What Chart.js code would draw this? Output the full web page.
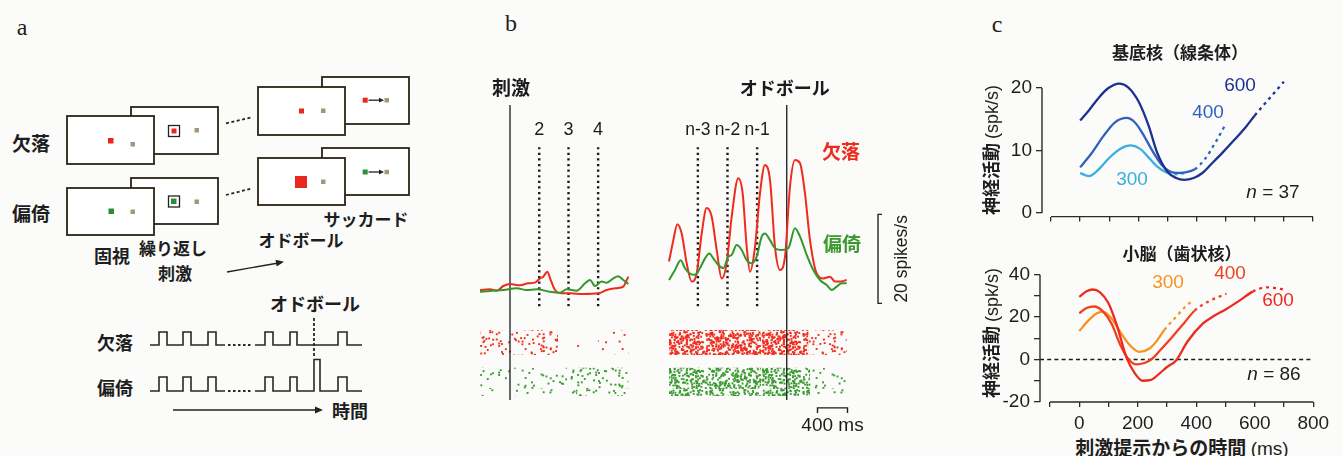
<!DOCTYPE html>
<html><head><meta charset="utf-8">
<script src="https://cdn.jsdelivr.net/npm/chart.js@4.4.1/dist/chart.umd.min.js"></script>
<style>
html,body{margin:0;padding:0;background:#fbfbf9;}
#root{position:relative;width:1343px;height:456px;overflow:hidden;background:#fbfbf9;font-family:"Liberation Sans",Arial,sans-serif;color:#1e1e1e;}
.t{position:absolute;white-space:nowrap;transform:translate(-50%,-50%);line-height:1;}
.jp{font-family:"Noto Sans CJK JP",sans-serif;font-weight:bold;}
.n{font-family:"Liberation Sans",Arial,sans-serif;font-weight:normal;}
.let{font-family:"Liberation Serif","DejaVu Serif",serif;font-size:24px;}
canvas{position:absolute;}
</style></head><body><div id="root">

<svg width="470" height="456" style="position:absolute;left:0;top:0" xmlns="http://www.w3.org/2000/svg">
 <g fill="#fff" stroke="#2b2414" stroke-width="1.8">
  <rect x="131" y="107" width="87" height="47"/>
  <rect x="67" y="116" width="87" height="48"/>
  <rect x="322" y="77" width="87" height="47"/>
  <rect x="258" y="87" width="87" height="48"/>
  <rect x="131" y="178" width="87" height="46"/>
  <rect x="67" y="188" width="87" height="47"/>
  <rect x="322" y="148" width="87" height="47"/>
  <rect x="258" y="158" width="87" height="47"/>
 </g>
 <g stroke="none">
  <rect x="168.5" y="125.5" width="11" height="11" fill="#fff" stroke="#222" stroke-width="1.3"/>
  <rect x="171.5" y="128.5" width="5" height="5" fill="#e8281e"/>
  <rect x="194.5" y="128" width="4.5" height="4.5" fill="#a3967a"/>
  <rect x="108" y="138" width="5.5" height="5.5" fill="#e8281e"/>
  <rect x="130.5" y="142" width="4.5" height="4.5" fill="#a3967a"/>
  <rect x="299" y="108.5" width="5" height="5" fill="#e8281e"/>
  <rect x="321" y="108.5" width="4.5" height="4.5" fill="#a3967a"/>
  <rect x="362.7" y="97.7" width="5" height="5" fill="#e8281e"/>
  <rect x="384.5" y="98" width="4.5" height="4.5" fill="#a3967a"/>
  <rect x="168.5" y="196" width="11" height="11" fill="#fff" stroke="#222" stroke-width="1.3"/>
  <rect x="171" y="198.5" width="5.5" height="5.5" fill="#2a8f3a"/>
  <rect x="194.5" y="199.5" width="4.5" height="4.5" fill="#a3967a"/>
  <rect x="108.5" y="208.5" width="5.5" height="5.5" fill="#2a8f3a"/>
  <rect x="130.5" y="209.5" width="4.5" height="4.5" fill="#a3967a"/>
  <rect x="295" y="176" width="12" height="12" fill="#e8281e"/>
  <rect x="321" y="179.5" width="4.5" height="4.5" fill="#a3967a"/>
  <rect x="362.7" y="169.5" width="5" height="5" fill="#2a8f3a"/>
  <rect x="384.5" y="169.8" width="4.5" height="4.5" fill="#a3967a"/>
 </g>
 <g stroke="#222" stroke-width="1.3" fill="#222">
  <line x1="368.5" y1="100.2" x2="379.5" y2="100.2"/><polygon points="379,97.8 384,100.2 379,102.6" stroke="none"/>
  <line x1="368.5" y1="172" x2="379.5" y2="172"/><polygon points="379,169.6 384,172 379,174.4" stroke="none"/>
 </g>
 <g stroke="#2b2414" stroke-width="1.8" stroke-dasharray="3 2.5" fill="none">
  <line x1="226" y1="123.3" x2="252" y2="117.3"/>
  <line x1="226" y1="195" x2="252" y2="188.3"/>
 </g>
 <g stroke="#222" stroke-width="1.4" fill="#222">
  <line x1="227" y1="272" x2="277" y2="263.2"/><polygon points="284,261.7 276.7,266.5 275.5,259.7" stroke="none"/>
  <line x1="173" y1="410" x2="317" y2="410"/><polygon points="323,410 315,406.5 315,413.5" stroke="none"/>
 </g>
 <g stroke="#2e2719" stroke-width="1.6" fill="none">
  <path d="M150,345 H159 V332 H167 V345 H183 V332 H191 V345 H208 V332 H216 V345 H225"/>
  <path d="M255,345 H265 V332 H273 V345 H290 V332 H297 V345 H338 V332 H347 V345 H362"/>
  <path d="M150,391 H159 V377 H167 V391 H183 V377 H191 V391 H208 V377 H216 V391 H225"/>
  <path d="M255,391 H265 V377 H273 V391 H290 V377 H297 V391 H314 V359.5 H320 V391 H338 V377 H347 V391 H362"/>
  <path d="M228,345 H253 M228,391 H253" stroke-dasharray="2.5 2.5" stroke-width="1.8"/>
  <path d="M314,318 V358" stroke-dasharray="3 2" stroke-width="1.8"/>
 </g>
 <g font-family="Noto Sans CJK JP" font-weight="bold" fill="#1e1e1e" text-anchor="middle" dominant-baseline="central">
  <text x="31" y="142" font-size="19">欠落</text>
  <text x="31" y="212" font-size="19">偏倚</text>
  <text x="366" y="218" font-size="17">サッカード</text>
  <text x="301" y="239" font-size="17">オドボール</text>
  <text x="112" y="255" font-size="18">固視</text>
  <text x="173" y="247" font-size="17">繰り返し</text>
  <text x="175" y="272" font-size="17">刺激</text>
  <text x="315" y="303" font-size="18">オドボール</text>
  <text x="115" y="342" font-size="18">欠落</text>
  <text x="115" y="387" font-size="18">偏倚</text>
  <text x="350" y="410" font-size="18">時間</text>
 </g>
 <text x="22" y="27" font-family="Liberation Serif" font-size="24" fill="#1e1e1e" text-anchor="middle" dominant-baseline="central">a</text>
</svg>

<div class="t let" style="left:511px;top:23px">b</div>
<div class="t let" style="left:997px;top:24px">c</div>

<canvas id="cb" width="450" height="370" style="left:470px;top:70px;width:450px;height:370px"></canvas>
<div class="t jp" style="left:841px;top:150px;font-size:19px;color:#ee2b1c">欠落</div>
<div class="t jp" style="left:842px;top:242px;font-size:19px;color:#3a9a2f">偏倚</div>

<canvas id="c1" width="358" height="172" style="left:985px;top:60px;width:358px;height:172px"></canvas>
<canvas id="c2" width="358" height="177" style="left:985px;top:255px;width:358px;height:177px"></canvas>

<div class="t jp" style="left:1180px;top:51px;font-size:17px">基底核（線条体）</div>
<div class="t jp" style="left:991px;top:150px;font-size:18px;transform:translate(-50%,-50%) rotate(-90deg)">神経活動 <span class="n">(spk/s)</span></div>
<div class="t" style="left:1240px;top:84px;font-size:19px;color:#1d3290">600</div>
<div class="t" style="left:1208px;top:111px;font-size:19px;color:#2f62bd">400</div>
<div class="t" style="left:1132px;top:178px;font-size:19px;color:#3aaee3">300</div>
<div class="t" style="left:1273px;top:191px;font-size:19px"><i>n</i> = 37</div>

<div class="t jp" style="left:1182px;top:252px;font-size:17px">小脳（歯状核）</div>
<div class="t jp" style="left:991px;top:333px;font-size:18px;transform:translate(-50%,-50%) rotate(-90deg)">神経活動 <span class="n">(spk/s)</span></div>
<div class="t" style="left:1168px;top:281px;font-size:19px;color:#f7941d">300</div>
<div class="t" style="left:1230px;top:272px;font-size:19px;color:#f0401f">400</div>
<div class="t" style="left:1278px;top:299px;font-size:19px;color:#ee2a1e">600</div>
<div class="t" style="left:1274px;top:373px;font-size:19px"><i>n</i> = 86</div>
<div class="t jp" style="left:1182px;top:447px;font-size:19px">刺激提示からの時間 <span class="n">(ms)</span></div>

</div>
<script>
Chart.defaults.font.family = '"Liberation Sans", Arial, sans-serif';
Chart.defaults.color = '#1e1e1e';

// ================= DATA =================
// Panel b: time (ms, first stimulus = 0) vs firing rate (spikes/s)
const stimRedTrace = [[-400,8.0],[-267,8.15],[-178,7.85],[-89,8.9],[0,9.35],[133,9.05],[244,9.5],[333,9.65],[400,10.6],[444,11.0],[498,12.1],[542,10.25],[600,8.0],[689,7.25],[800,7.25],[978,7.1],[1178,7.25],[1289,8.0],[1422,8.4],[1511,8.75],[1547,9.9],[1578,11.0]];
const stimGreenTrace = [[-400,7.6],[-267,7.8],[-89,8.0],[89,8.4],[222,8.0],[356,8.15],[533,7.6],[667,7.4],[756,8.15],[889,7.85],[1000,9.5],[1067,10.25],[1133,8.9],[1222,9.9],[1289,9.65],[1378,10.6],[1444,11.1],[1511,10.25],[1578,9.35]];
const oddRedTrace = [[2120,14.4],[2178,19.2],[2231,22.8],[2289,20.7],[2356,14.0],[2422,9.9],[2489,11.7],[2556,20.7],[2622,26.4],[2689,24.5],[2756,17.0],[2822,10.6],[2889,14.0],[2956,24.5],[3044,33.1],[3102,29.7],[3156,17.7],[3200,12.1],[3267,17.7],[3333,29.7],[3400,36.1],[3467,32.7],[3533,17.7],[3600,12.5],[3667,15.5],[3733,31.2],[3800,37.2],[3867,36.5],[3933,29.7],[4000,19.2],[4089,11.7],[4178,10.6],[4267,11.0],[4333,9.9],[4400,9.9],[4489,10.25]];
const oddGreenTrace = [[2120,10.25],[2200,12.5],[2276,14.7],[2333,12.9],[2400,11.7],[2467,11.4],[2533,12.9],[2600,15.1],[2658,16.2],[2711,15.1],[2778,13.6],[2844,12.9],[2911,15.5],[2956,15.9],[3022,18.1],[3089,17.0],[3156,14.7],[3222,14.0],[3289,15.5],[3356,20.0],[3400,20.7],[3467,19.2],[3533,17.4],[3622,17.0],[3711,17.4],[3800,21.9],[3867,20.0],[3956,15.9],[4044,12.5],[4133,10.25],[4222,9.1],[4289,8.0],[4356,8.75],[4422,9.5],[4489,9.5]];
const stimOnsetLeft = [0];
const stimDottedLeft = [390, 780, 1175];
const stimLabelsLeft = ['2', '3', '4'];
const stimDottedRight = [2505, 2900, 3295];
const stimLabelsRight = ['n-3', 'n-2', 'n-1'];
const oddballOnset = [3690];
const bHeaderLabels = ['刺激', 'オドボール'];
// raster segments: [start ms, end ms, density level 0..3]
const rasterRed = [[-400,640,2],[780,940,0],[1170,1580,1],[2120,3980,3],[3980,4490,2]];
const rasterGreen = [[-400,880,1],[880,1580,2],[2120,4000,3],[4000,4490,1]];
const scaleBarRate = [5, 25];      // 20 spikes/s
const scaleBarTime = [4100, 4500]; // 400 ms

// Panel c: time from stimulus (ms) vs activity (spk/s), ISI 600/400/300 ms
const cTicksX = [-100,0,100,200,300,400,500,600,700,800];
const cLabeledX = [0,200,400,600,800];
const cTopTicksY = [0,10,20];
const cBottomTicksY = [-20,-10,0,10,20,30,40];
const cBottomLabeledY = [-20,0,20,40];
const striatum600 = [[0,14.8],[30,16.4],[60,18.2],[95,19.9],[134,20.7],[165,20.1],[200,17.9],[235,14.0],[265,9.6],[300,6.6],[330,5.6],[357,5.3],[390,5.6],[420,6.4],[450,7.8],[490,9.7],[530,11.7],[570,13.8],[600,15.6],[650,18.3],[700,21.0]];
const striatum400 = [[0,7.3],[40,9.6],[80,12.3],[120,14.5],[160,15.2],[190,14.4],[220,12.3],[250,9.8],[280,7.7],[305,6.7],[330,6.4],[360,6.5],[394,7.0],[430,8.7],[465,11.3],[500,14.2]];
const striatum300 = [[0,6.4],[15,6.1],[30,5.9],[60,6.8],[100,8.8],[140,10.3],[173,10.8],[205,10.3],[235,8.9],[265,7.4],[300,6.4],[335,6.2],[370,6.5]];
const striatumSolidEnd = [600, 394, 300];
const dentate600 = [[0,29.5],[25,32.2],[46,33.0],[70,31.8],[100,26.5],[130,15.5],[160,1.5],[190,-6.5],[217,-10.0],[245,-9.6],[275,-6.5],[300,-3.5],[331,-0.4],[370,8.5],[423,17.0],[460,20.5],[503,23.8],[550,28.0],[593,32.0],[640,34.0],[670,33.7],[697,33.0]];
const dentate400 = [[0,21.8],[25,24.3],[51,25.0],[80,22.8],[110,17.0],[140,7.0],[165,0.8],[194,-2.3],[225,-1.5],[250,0.5],[274,4.0],[320,11.0],[360,17.5],[394,23.0],[440,27.2],[503,31.0]];
const dentate300 = [[0,13.4],[30,18.2],[60,21.8],[80,22.6],[110,19.5],[140,13.0],[170,7.2],[206,3.6],[240,5.2],[265,8.8],[291,14.0],[330,20.0],[360,24.5],[387,27.8]];
const dentateSolidEnd = [593, 394, 291];
const striatumColors = ['#1d3290', '#2f62bd', '#3aaee3'];
const dentateColors = ['#ee2a1e', '#f0401f', '#f7941d'];

// ================= PANEL b =================
const bLevels = {header: 53.4, label: 44.0, solidTop: 49.6, solidBottom: -16.7, dotTop: 40.1, dotBottom: 4.2,
                 redTop: -1.0, redBottom: -6.6, greenTop: -9.5, greenBottom: -15.8, timeBar: -18.5, timeText: -22.4};
const bCanvas = document.getElementById('cb');
const bCtx = bCanvas.getContext('2d');
// deterministic hash used only for the raster dot texture
function hash(i, s) { const v = Math.sin(i * 127.1 + s * 311.7) * 43758.5453; return v - Math.floor(v); }
function dotPattern(color, count) {
  const W = 97, H = 29;
  const c = document.createElement('canvas'); c.width = W; c.height = H;
  const g = c.getContext('2d'); g.fillStyle = color;
  for (let i = 0; i < count; i++) {
    g.fillRect(hash(i, 1) * W, hash(i, 2) * H, 1.9, 1.9);
  }
  return bCtx.createPattern(c, 'repeat');
}
const redPats = [12, 45, 115, 560].map(n => dotPattern('#f02c1e', n));
const greenPats = [12, 50, 120, 430].map(n => dotPattern('#3a9a30', n));
const pts = arr => arr.map(p => ({x: p[0], y: p[1]}));
const vline = (t, top, bot, dotted) => ({data: [{x: t, y: top}, {x: t, y: bot}], borderColor: '#1a1a1a',
  borderWidth: dotted ? 2.4 : 1.3, borderDash: dotted ? [2.2, 3.4] : [], pointRadius: 0, fill: false, order: 2});
const rasterSet = (seg, top, bot, pats) => ({data: [{x: seg[0], y: top}, {x: seg[1], y: top}], borderWidth: 0,
  borderColor: 'rgba(0,0,0,0)', backgroundColor: pats[seg[2]], fill: {value: bot}, pointRadius: 0, order: 5});
const traceSet = (arr, color) => ({data: pts(arr), borderColor: color, borderWidth: 2, pointRadius: 0, fill: false,
  cubicInterpolationMode: 'monotone', order: 1});

const bDatasets = [].concat(
  rasterRed.map(s => rasterSet(s, bLevels.redTop, bLevels.redBottom, redPats)),
  rasterGreen.map(s => rasterSet(s, bLevels.greenTop, bLevels.greenBottom, greenPats)),
  stimOnsetLeft.concat(oddballOnset).map(t => vline(t, bLevels.solidTop, bLevels.solidBottom, false)),
  stimDottedLeft.concat(stimDottedRight).map(t => vline(t, bLevels.dotTop, bLevels.dotBottom, true)),
  [traceSet(stimGreenTrace, '#34962c'), traceSet(stimRedTrace, '#ee2b1c'),
   traceSet(oddGreenTrace, '#34962c'), traceSet(oddRedTrace, '#ee2b1c')]
);
const bDecor = {
  id: 'bDecor',
  afterDatasetsDraw(chart) {
    const {ctx, scales: {x, y}} = chart;
    ctx.save();
    ctx.fillStyle = '#1b1b1b'; ctx.strokeStyle = '#2a2418'; ctx.lineWidth = 1.4;
    ctx.textAlign = 'center'; ctx.textBaseline = 'middle';
    ctx.font = 'bold 19px "Noto Sans CJK JP"';
    ctx.fillText(bHeaderLabels[0], x.getPixelForValue(stimOnsetLeft[0]) + 1, y.getPixelForValue(bLevels.header));
    ctx.font = 'bold 18px "Noto Sans CJK JP"';
    ctx.fillText(bHeaderLabels[1], x.getPixelForValue(oddballOnset[0]) - 2, y.getPixelForValue(bLevels.header));
    ctx.font = '18px "Liberation Sans"';
    stimDottedLeft.forEach((t, i) => ctx.fillText(stimLabelsLeft[i], x.getPixelForValue(t), y.getPixelForValue(bLevels.label)));
    ctx.font = '17.5px "Liberation Sans"';
    stimDottedRight.forEach((t, i) => ctx.fillText(stimLabelsRight[i], x.getPixelForValue(t), y.getPixelForValue(bLevels.label)));
    // rate scale bar
    const sx = x.getPixelForValue(4907), y0 = y.getPixelForValue(scaleBarRate[0]), y1 = y.getPixelForValue(scaleBarRate[1]);
    ctx.beginPath(); ctx.moveTo(sx + 4, y1); ctx.lineTo(sx, y1); ctx.lineTo(sx, y0); ctx.lineTo(sx + 4, y0); ctx.stroke();
    ctx.save(); ctx.translate(sx + 24, (y0 + y1) / 2); ctx.rotate(-Math.PI / 2);
    ctx.font = '17.5px "Liberation Sans"'; ctx.fillText('20 spikes/s', 0, 0); ctx.restore();
    // time scale bar
    const tx0 = x.getPixelForValue(scaleBarTime[0]), tx1 = x.getPixelForValue(scaleBarTime[1]), ty = y.getPixelForValue(bLevels.timeBar);
    ctx.strokeStyle = '#1e1e1e';
    ctx.beginPath(); ctx.moveTo(tx0, ty + 5); ctx.lineTo(tx0, ty); ctx.lineTo(tx1, ty); ctx.lineTo(tx1, ty + 5); ctx.stroke();
    ctx.font = '19px "Liberation Sans"';
    ctx.fillText('400 ms', (tx0 + tx1) / 2, y.getPixelForValue(bLevels.timeText));
    ctx.restore();
  }
};
new Chart(bCanvas, {
  type: 'line',
  data: {datasets: bDatasets},
  options: {
    responsive: false, animation: false, devicePixelRatio: 1,
    layout: {padding: 0},
    plugins: {legend: {display: false}, tooltip: {enabled: false}},
    scales: {
      x: {type: 'linear', display: false, min: -533.3, max: 5466.7},
      y: {type: 'linear', display: false, min: -25.71, max: 57.44}
    }
  },
  plugins: [bDecor]
});

// ================= PANEL c =================
const axisLines = {
  id: 'axisLines',
  afterDraw(chart, args, o) {
    const {ctx, chartArea, scales: {x, y}} = chart;
    ctx.save(); ctx.strokeStyle = '#2a2a2a'; ctx.lineWidth = 1.4;
    ctx.beginPath();
    ctx.moveTo(chartArea.left, y.getPixelForValue(o.yFrom)); ctx.lineTo(chartArea.left, y.getPixelForValue(o.yTo));
    ctx.moveTo(x.getPixelForValue(o.xFrom), chartArea.bottom); ctx.lineTo(x.getPixelForValue(o.xTo), chartArea.bottom);
    ctx.stroke(); ctx.restore();
  }
};
function makeC(id, o) {
  const sets = o.series.map((arr, i) => ({
    data: pts(arr), borderColor: o.colors[i], borderWidth: 2.3, pointRadius: 0, fill: false,
    cubicInterpolationMode: 'monotone', order: 1,
    segment: {borderDash: c => (c.p0.parsed.x >= o.solidEnd[i] - 0.5 ? [3, 4] : undefined)}
  }));
  if (o.zeroLine) sets.push({data: [{x: o.xmin, y: 0}, {x: 800, y: 0}], borderColor: '#1a1a1a', borderWidth: 1.6,
    borderDash: [4, 3.2], pointRadius: 0, fill: false, order: 10});
  return new Chart(document.getElementById(id), {
    type: 'line',
    data: {datasets: sets},
    options: {
      responsive: false, animation: false, devicePixelRatio: 1,
      layout: {padding: {top: o.padTop, right: 25, left: 0, bottom: 0}},
      plugins: {legend: {display: false}, tooltip: {enabled: false},
        axisLines: {yFrom: o.yTicks[0], yTo: o.yTicks[o.yTicks.length - 1], xFrom: -100, xTo: 800}},
      scales: {
        x: {type: 'linear', min: o.xmin, max: o.xmax,
          afterBuildTicks: a => { a.ticks = cTicksX.map(v => ({value: v})); },
          afterFit: a => { a.height = o.xAxisH; },
          grid: {display: true, drawOnChartArea: false, drawTicks: true, tickLength: 5, color: '#2a2a2a', lineWidth: 1.3},
          border: {display: false},
          ticks: {autoSkip: false, maxRotation: 0, padding: 5, font: {size: 19}, color: '#1e1e1e',
            callback: v => (o.xLabels && cLabeledX.includes(v) ? String(v) : '')}},
        y: {type: 'linear', min: o.ymin, max: o.ymax,
          afterBuildTicks: a => { a.ticks = o.yTicks.map(v => ({value: v})); },
          afterFit: a => { a.width = o.yAxisW; },
          grid: {display: true, drawOnChartArea: false, drawTicks: true, tickLength: 6, color: '#2a2a2a', lineWidth: 1.3},
          border: {display: false},
          ticks: {autoSkip: false, padding: 4, font: {size: 19}, color: '#1e1e1e',
            callback: v => (o.yLabeled.includes(v) ? String(v) : '')}}
      }
    },
    plugins: [axisLines]
  });
}
makeC('c1', {series: [striatum600, striatum400, striatum300], colors: striatumColors, solidEnd: striatumSolidEnd,
  xmin: -130.9, xmax: 817.2, ymin: -0.571, ymax: 22, padTop: 4, xAxisH: 10, yAxisW: 57,
  yTicks: cTopTicksY, yLabeled: cTopTicksY, xLabels: false, zeroLine: false});
makeC('c2', {series: [dentate600, dentate400, dentate300], colors: dentateColors, solidEnd: dentateSolidEnd,
  xmin: -134.2, xmax: 816, ymin: -20, ymax: 42, padTop: 4.4, xAxisH: 30, yAxisW: 55,
  yTicks: cBottomTicksY, yLabeled: cBottomLabeledY, xLabels: true, zeroLine: true});
</script>
</body></html>
